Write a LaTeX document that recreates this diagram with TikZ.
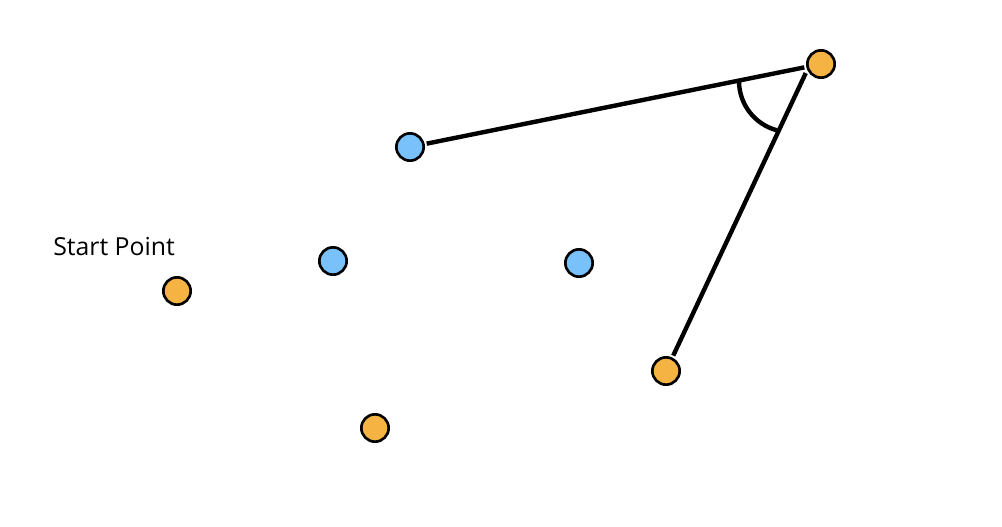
\documentclass[tikz,border=0pt]{standalone}
\usepackage{fontspec}
\setmainfont{Open Sans}
\usepackage{tikz}
\usetikzlibrary{positioning, calc}
\definecolor{dotorange}{HTML}{F4B342}
\definecolor{dotblue}{HTML}{78C1FA}

\begin{document}
\begin{tikzpicture}[x=0.75pt, y=-0.75pt,
    dot/.style={circle, draw=black, line width=2pt, inner sep=0pt, minimum size=20.5pt},
    odot/.style={dot, fill=dotorange},
    bdot/.style={dot, fill=dotblue},
    edge/.style={line width=3.3pt, shorten <=1.5pt, shorten >=1.5pt}]
\useasboundingbox (0,0) rectangle (1002,526);
\node[odot] (start) at (177,291) {};
\node[odot] (top)   at (821,64)  {};
\node[odot] (low)   at (375,428) {};
\node[odot] (right) at (666,371) {};
\node[bdot] (b1) at (410,147) {};
\node[bdot] (b2) at (333,261) {};
\node[bdot] (b3) at (579,263) {};
\node[font=\fontsize{18.6pt}{22pt}\selectfont, anchor=base west, inner sep=0pt] (label) at (53,255) {Start Point};
\coordinate (vertex) at ($(top)+(-11,0)$);
\draw[edge] (b1) -- (top);
\draw[edge, shorten >=7.5pt] (right) -- (vertex);
% angle mark
\coordinate (arcA) at (739,81);
\draw[line width=3.3pt] (arcA) arc[start angle=180, end angle=105, radius=51];
\end{tikzpicture}
\end{document}
